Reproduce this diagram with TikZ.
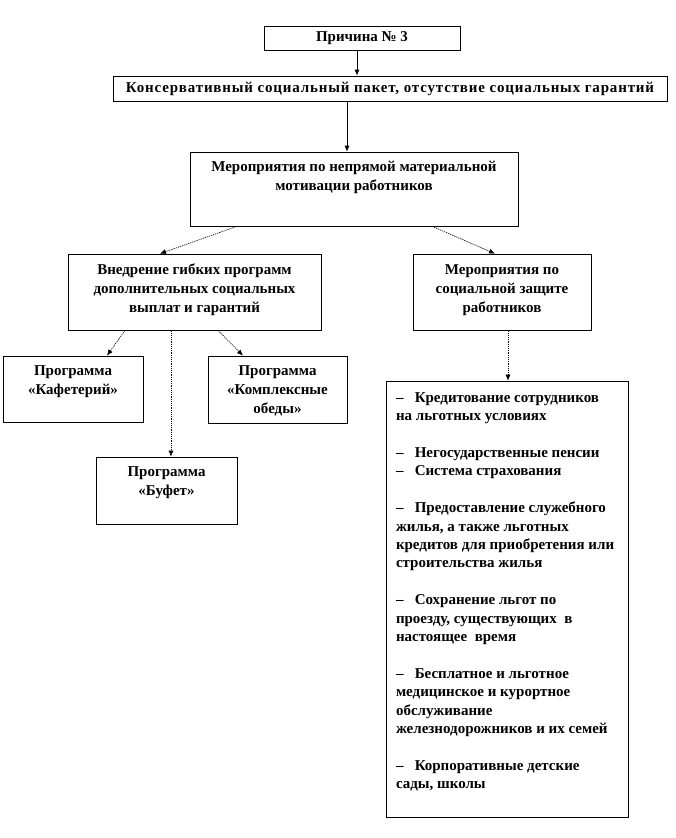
\documentclass[tikz,border=0pt]{standalone}
\usepackage{fontspec}
\setmainfont{Liberation Serif}
\usetikzlibrary{arrows.meta}
\newcommand\bt[4]{\parbox[c][#2][t]{#1}{\centering\vspace*{#3}#4\par}}
\newcommand\dsh{–\hspace{0.75em}}
\begin{document}
\begin{tikzpicture}[x=1pt,y=-1pt,
  bx/.style={draw, line width=0.7pt, inner sep=0pt, font=\bfseries\fontsize{15}{19}\selectfont},
  arr/.style={-{Latex[length=6pt,width=5pt]}, line width=0.7pt},
  dotarr/.style={arr, dash pattern=on 1.3pt off 0.9pt, line width=0.6pt}]
\useasboundingbox (0,0) rectangle (675,838);
\fill[white] (0,0) rectangle (675,838);

\node[bx, minimum width=196pt, minimum height=24pt] (pr) at (362,38) {Причина № 3};
\node[bx, minimum width=554pt, minimum height=25pt] (kons) at (390,88.5) {\addfontfeatures{LetterSpace=5.5}Консервативный социальный пакет, отсутствие социальных гарантий};
\node[bx] (mer) at (354,189) {\bt{328pt}{74pt}{9.5pt}{Мероприятия по непрямой материальной\\мотивации работников}};
\node[bx] (vn) at (194.5,292) {\bt{253pt}{76pt}{9.5pt}{Внедрение гибких программ\\дополнительных социальных\\выплат и гарантий}};
\node[bx] (sz) at (502,292) {\bt{178pt}{76pt}{10.5pt}{Мероприятия по\\социальной защите\\работников}};
\node[bx] (kaf) at (73,389) {\bt{140pt}{66pt}{9.5pt}{Программа\\«Кафетерий»}};
\node[bx] (kom) at (277.5,389.5) {\bt{139pt}{67pt}{9.5pt}{Программа\\«Комплексные\\обеды»}};
\node[bx] (buf) at (166.5,490.5) {\bt{141pt}{67pt}{9.5pt}{Программа\\«Буфет»}};
\node[bx, inner xsep=10pt, inner ysep=0pt] (list) at (507,599) {\parbox[c][436pt][t]{222pt}{\raggedright\fontsize{15}{18.4}\selectfont\vspace*{11.5pt}%
\dsh Кредитование сотрудников\\
на льготных условиях\\[18.4pt]
\dsh Негосударственные пенсии\\
\dsh Система страхования\\[18.4pt]
\dsh Предоставление служебного\\
жилья, а также льготных\\
кредитов для приобретения или\\
строительства жилья\\[18.4pt]
\dsh Сохранение льгот по\\
проезду, существующих\ \ в\\
настоящее\ \ время\\[18.4pt]
\dsh Бесплатное и льготное\\
медицинское и курортное\\
обслуживание\\
железнодорожников и их семей\\[18.4pt]
\dsh Корпоративные детские\\
сады, школы\par}};

\draw[arr] ([xshift=-5pt]pr.south) -- ([xshift=-5pt]pr.south |- kons.north);
\draw[arr] ([xshift=-7pt]mer.north |- kons.south) -- ([xshift=-7pt]mer.north);
\draw[dotarr] ([xshift=-117pt]mer.south) -- ([xshift=-34.5pt]vn.north);
\draw[dotarr] ([xshift=78pt]mer.south) -- ([xshift=-7pt]sz.north);
\draw[dotarr] ([xshift=-69.5pt]vn.south) -- ([xshift=34pt]kaf.north);
\draw[dotarr] ([xshift=23.5pt]vn.south) -- ([xshift=-34.5pt]kom.north);
\draw[dotarr] ([xshift=-23.5pt]vn.south) -- ([xshift=-23.5pt]vn.south |- buf.north);
\draw[dotarr] ([xshift=6pt]sz.south) -- ([xshift=6pt]sz.south |- list.north);
\end{tikzpicture}
\end{document}
